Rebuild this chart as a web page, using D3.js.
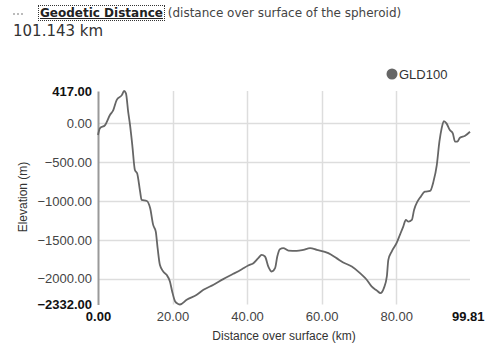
<!DOCTYPE html>
<html lang="en">
<head>
<meta charset="utf-8">
<title>Elevation profile</title>
<script src="https://cdn.jsdelivr.net/npm/d3@7"></script>
<style>
    body {
        margin: 0;
        background: #fff;
        font-family: Arial, 'Liberation Sans', sans-serif;
    }
    #header {
        position: absolute;
        left: 13px;
        top: 6px;
        font-family: 'DejaVu Sans', Verdana, sans-serif;
        font-size: 12px;
        color: #444;
        white-space: nowrap;
    }
    #header .dots {
        display: inline-block;
        width: 10px;
        border-top: 2px dotted #bbb;
        vertical-align: middle;
        margin-right: 16px;
    }
    #header .title {
        font-weight: bold;
        font-size: 12px;
        color: #222;
        text-decoration: underline;
        outline: 1px dotted #333;
        padding: 0 1px;
    }
    #dist {
        position: absolute;
        left: 13px;
        top: 22px;
        font-family: 'DejaVu Sans', Verdana, sans-serif;
        font-size: 15px;
        color: #333;
    }
    svg { position: absolute; left: 0; top: 0; }
</style>
</head>
<body>
<div id="header"><span class="dots"></span><span class="title">Geodetic Distance</span> (distance over surface of the spheroid)</div>
<div id="dist">101.143 km</div>
<svg id="chart" width="490" height="347"></svg>

<script>
// distance along profile (km)
var distance = [0, 0.5, 1.9, 3.2, 4.1, 5.0, 6.4, 7.0, 7.5, 8.1, 8.6, 9.2, 9.9, 10.5, 11.3, 11.7,
    13.1, 14.0, 14.8, 15.5, 16.0, 16.6, 17.5, 18.4, 19.3, 19.9, 20.7, 21.5, 22.0, 23.8, 26.5,
    28.3, 31.0, 33.6, 36.3, 38.6, 40.3, 41.7, 43.0, 43.9, 44.8, 45.7, 46.6, 47.5, 48.1, 48.8,
    49.7, 51.1, 53.3, 55.1, 56.9, 58.7, 61.8, 64.0, 65.8, 68.1, 70.3, 72.1, 73.4, 74.8, 75.8,
    76.7, 77.5, 77.9, 78.8, 80.1, 81.0, 81.9, 82.6, 83.3, 84.2, 84.8, 85.7, 86.6, 87.7, 89.1,
    90.0, 90.9, 91.6, 92.2, 92.8, 93.5, 94.4, 95.2, 95.8, 96.4, 97.1, 98.5, 99.81];
// elevation (m)
var elevation = [-150, -64, -22, 107, 171, 300, 364, 417, 386, 149, -22, -279, -600, -643, -879, -986,
    -999, -1093, -1307, -1393, -1607, -1821, -1907, -1950, -2036, -2164, -2293, -2325, -2332, -2271, -2207,
    -2143, -2078, -2005, -1937, -1877, -1830, -1800, -1735, -1693, -1714, -1843, -1907, -1864, -1714, -1620,
    -1607, -1637, -1641, -1628, -1607, -1628, -1671, -1735, -1791, -1843, -1928, -2014, -2100, -2151, -2185,
    -2121, -1971, -1757, -1650, -1542, -1436, -1329, -1243, -1265, -1243, -1114, -1008, -943, -879, -870,
    -750, -536, -236, -64, 30, 0, -86, -129, -236, -236, -185, -159, -108];

var yGrid = [0, -500, -1000, -1500, -2000];
var xGrid = [20, 40, 60, 80];
var seriesName = "GLD100";

var data = distance.map(function(d, i) { return { d: d, e: elevation[i] }; });
var xExt = d3.extent(distance);
var yExt = d3.extent(elevation);

var x = d3.scaleLinear().domain(xExt).range([98, 470]);
var y = d3.scaleLinear().domain(yExt).range([304.5, 91]);
var fmt = d3.format(".2f");
var isEnd = function(v, ext) { return v === ext[0] || v === ext[1]; };

var svg = d3.select("#chart");

// gridlines
svg.append("g").selectAll("line").data(yGrid).enter().append("line")
    .attr("x1", x(xExt[0])).attr("x2", x(xExt[1]))
    .attr("y1", function(d) { return Math.round(y(d)) + 0.5; })
    .attr("y2", function(d) { return Math.round(y(d)) + 0.5; })
    .attr("stroke", "#ddd").attr("stroke-width", 1.5);

svg.append("g").selectAll("line").data(xGrid).enter().append("line")
    .attr("x1", function(d) { return Math.round(x(d)) + 0.5; })
    .attr("x2", function(d) { return Math.round(x(d)) + 0.5; })
    .attr("y1", y(yExt[1])).attr("y2", y(yExt[0]))
    .attr("stroke", "#ddd").attr("stroke-width", 1.5);

// y axis
var yAxis = svg.append("g")
    .attr("transform", "translate(" + x(xExt[0]) + ",0)")
    .call(d3.axisLeft(y).tickValues([yExt[1]].concat(yGrid, [yExt[0]])).tickSize(0).tickPadding(6).tickFormat(fmt));
yAxis.attr("font-family", "Arial, 'Liberation Sans', sans-serif").attr("font-size", 13);
yAxis.select(".domain").attr("stroke", "#999").attr("stroke-width", 2);
yAxis.selectAll("text")
    .attr("font-weight", function(d) { return isEnd(d, yExt) ? "bold" : null; })
    .attr("fill", function(d) { return isEnd(d, yExt) ? "#111" : "#444"; });

// x axis
var xAxis = svg.append("g")
    .attr("transform", "translate(0," + y(yExt[0]) + ")")
    .call(d3.axisBottom(x).tickValues([xExt[0]].concat(xGrid, [xExt[1]])).tickSize(0).tickPadding(7).tickFormat(fmt));
xAxis.attr("font-family", "Arial, 'Liberation Sans', sans-serif").attr("font-size", 13);
xAxis.select(".domain").remove();
xAxis.selectAll("text")
    .attr("font-weight", function(d) { return isEnd(d, xExt) ? "bold" : null; })
    .attr("fill", function(d) { return isEnd(d, xExt) ? "#111" : "#444"; })
    .attr("text-anchor", function(d) { return d === xExt[1] ? "end" : "middle"; })
    .attr("dx", function(d) { return d === xExt[1] ? 14 : 0; });

// profile line
var line = d3.line()
    .x(function(d) { return x(d.d); })
    .y(function(d) { return y(d.e); })
    .curve(d3.curveMonotoneX);

svg.append("path")
    .datum(data)
    .attr("d", line)
    .attr("fill", "none")
    .attr("stroke", "#666")
    .attr("stroke-width", 1.8);

// axis titles
svg.append("text")
    .attr("transform", "translate(27,197) rotate(-90)")
    .attr("text-anchor", "middle")
    .attr("font-size", 12).attr("fill", "#333")
    .text("Elevation (m)");

svg.append("text")
    .attr("x", 284).attr("y", 340)
    .attr("text-anchor", "middle")
    .attr("font-size", 12).attr("fill", "#333")
    .text("Distance over surface (km)");

// legend
svg.append("circle").attr("cx", 392).attr("cy", 74).attr("r", 5.5).attr("fill", "#666");
svg.append("text").attr("x", 399).attr("y", 78.5)
    .attr("font-size", 13).attr("fill", "#333")
    .text(seriesName);
</script>
</body>
</html>
